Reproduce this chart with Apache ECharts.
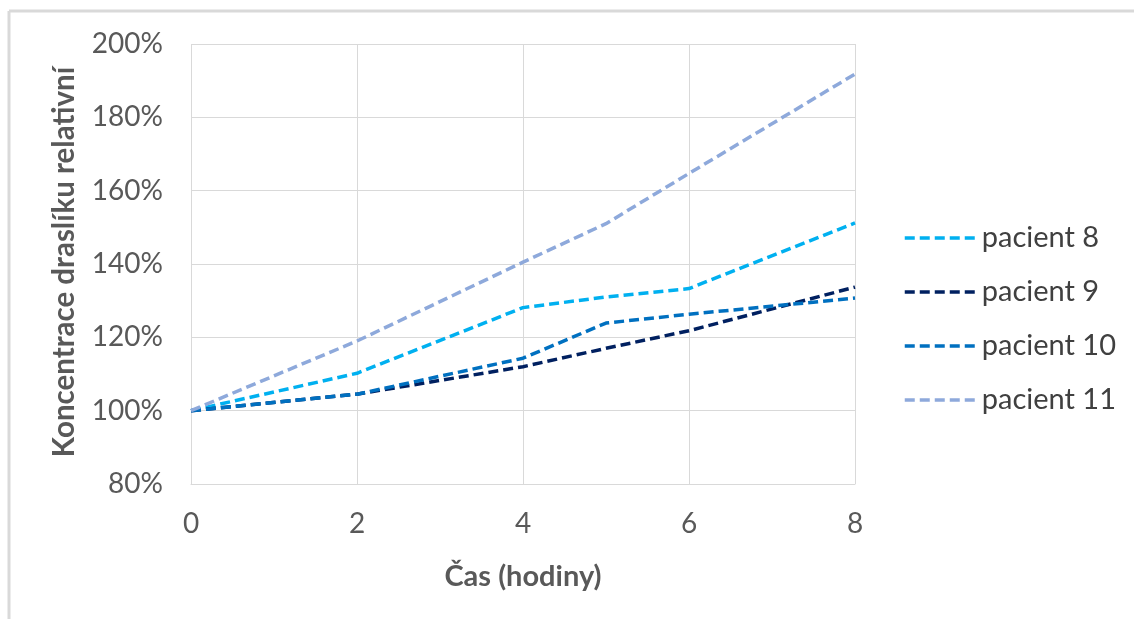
<!DOCTYPE html>
<html>
<head>
<meta charset="utf-8">
<script src="https://cdn.jsdelivr.net/npm/echarts@6/dist/echarts.min.js"></script>
<style>
html,body{margin:0;padding:0;background:#fff;}
#chart{width:1134px;height:619px;}
</style>
</head>
<body>
<div id="chart"></div>
<script>
// Time (hours)
const hours = [0, 2, 4, 5, 6, 8];
// Relative potassium concentration (%)
const pacient8 = [100, 110.2, 128.1, 131.0, 133.3, 151.2];
const pacient9 = [100, 104.5, 112.0, 117.0, 121.8, 133.7];
const pacient10 = [100, 104.5, 114.3, 123.9, 126.3, 130.7];
const pacient11 = [100, 119.0, 140.5, 151.0, 164.7, 191.8];
const seriesNames = ['pacient 8', 'pacient 9', 'pacient 10', 'pacient 11'];
const seriesColors = ['#00B0F0', '#002060', '#0070C0', '#8EA9DB'];
const yTitle = 'Koncentrace draslíku relativní';
const xTitle = 'Čas (hodiny)';

const allData = [pacient8, pacient9, pacient10, pacient11];
const FONT = 'Lato';

const chart = echarts.init(document.getElementById('chart'), null, {renderer: 'canvas'});
chart.setOption({
  animation: false,
  backgroundColor: '#ffffff',
  grid: {left: 191, right: 279, top: 44, bottom: 135, containLabel: false},
  xAxis: {
    type: 'value', min: 0, max: 8, interval: 2,
    axisLine: {show: true, lineStyle: {color: '#d9d9d9', width: 1}},
    axisTick: {show: false},
    axisLabel: {color: '#595959', fontFamily: FONT, fontSize: 28, margin: 26},
    splitLine: {show: true, lineStyle: {color: '#d9d9d9', width: 1}}
  },
  yAxis: {
    type: 'value', min: 80, max: 200, interval: 20,
    axisLine: {show: false},
    axisTick: {show: false},
    axisLabel: {color: '#595959', fontFamily: FONT, fontSize: 28, margin: 28, formatter: '{value}%'},
    splitLine: {show: true, lineStyle: {color: '#d9d9d9', width: 1}}
  },
  legend: {
    orient: 'vertical', left: 898, top: 218,
    itemWidth: 74, itemHeight: 10, itemGap: 24,
    lineStyle: {width: 3.5},
    itemStyle: {color: 'transparent', borderColor: 'transparent', borderWidth: 0, opacity: 0},
    textStyle: {color: '#404040', fontFamily: FONT, fontSize: 29, lineHeight: 30, padding: [0, 0, 0, -2]},
    data: seriesNames
  },
  graphic: [
    {type: 'line', shape: {x1: 9, y1: 11, x2: 1134, y2: 11}, style: {stroke: '#d9d9d9', lineWidth: 3}},
    {type: 'line', shape: {x1: 9, y1: 11, x2: 9, y2: 619}, style: {stroke: '#d9d9d9', lineWidth: 3}},
    {type: 'text', x: 64, y: 262, rotation: Math.PI / 2, style: {text: yTitle, font: 'bold 29.5px ' + FONT, fill: '#595959', align: 'center', verticalAlign: 'middle'}},
    {type: 'text', x: 523, y: 577, style: {text: xTitle, font: 'bold 29px ' + FONT, fill: '#595959', align: 'center', verticalAlign: 'middle'}}
  ],
  series: seriesNames.map((name, i) => ({
    name: name,
    type: 'line',
    data: hours.map((h, j) => [h, allData[i][j]]),
    symbol: 'none',
    smooth: false,
    color: seriesColors[i],
    lineStyle: {color: seriesColors[i], width: 3.5, type: [10, 5], cap: 'butt'}
  }))
});
</script>
</body>
</html>
